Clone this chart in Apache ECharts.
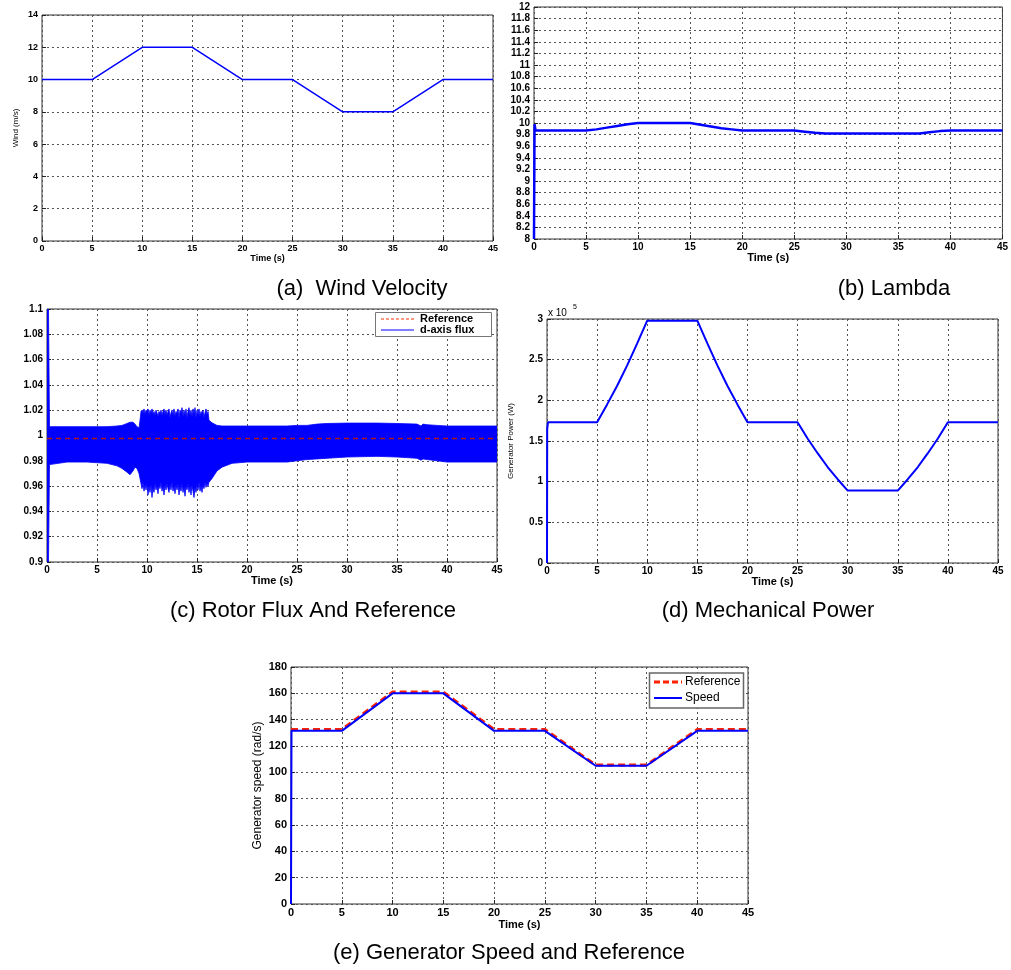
<!DOCTYPE html>
<html><head><meta charset="utf-8">
<script src="https://cdn.jsdelivr.net/npm/echarts@6/dist/echarts.min.js"></script>
<style>html,body{margin:0;padding:0;background:#fff}#c{width:1011px;height:970px}</style>
</head><body><div id="c"></div>
<script>
// ---- (a) Wind velocity ----
const windT = [0, 5, 10, 15, 20, 25, 30, 35, 40, 45];
const windV = [10, 10, 12, 12, 10, 10, 8, 8, 10, 10];
// ---- (b) Lambda ----
const lamT = [0, 0.05, 0.15, 5, 6, 7, 8, 9, 10, 15, 16, 17, 18, 19, 20, 25, 26, 27, 28, 30, 35, 37, 38, 39, 40, 45];
const lamV = [8.0, 9.98, 9.87, 9.87, 9.89, 9.92, 9.95, 9.98, 10.0, 10.0, 9.97, 9.94, 9.91, 9.89, 9.87, 9.87, 9.85, 9.83, 9.82, 9.82, 9.82, 9.82, 9.84, 9.86, 9.87, 9.87];
// ---- (c) Rotor flux envelope and reference ----
const fluxT = [0,0.15,0.25,2,4,6,7,7.5,8,8.3,8.6,8.8,9.0,9.2,
 9.3,9.4,9.5,9.6,9.7,9.8,9.9,10.0,10.1,10.2,
 10.3,10.4,10.5,10.6,10.7,10.8,10.9,11.0,11.1,11.2,
 11.3,11.4,11.5,11.6,11.7,11.8,11.9,12.0,12.1,12.2,
 12.3,12.4,12.5,12.6,12.7,12.8,12.9,13.0,13.1,13.2,
 13.3,13.4,13.5,13.6,13.7,13.8,13.9,14.0,14.1,14.2,
 14.3,14.4,14.5,14.6,14.7,14.8,14.9,15.0,15.1,15.2,
 15.3,15.4,15.5,15.6,15.7,15.8,15.9,16.0,16.1,16.2,
 16.5,17,17.5,18.5,20,24,25,26,27,28,30,33,35,37,37.4,37.6,38,39,40,45];
const fluxHi = [1.1,1.1,1.007,1.007,1.007,1.007,1.0075,1.008,1.0095,1.0105,1.0105,1.009,1.007,1.006,
 1.012,1.019,1.020,1.018,1.021,1.017,1.020,1.019,1.021,1.016,
 1.020,1.018,1.021,1.017,1.019,1.016,1.020,1.018,1.015,1.019,
 1.017,1.020,1.016,1.019,1.021,1.017,1.020,1.016,1.019,1.021,
 1.014,1.018,1.020,1.016,1.021,1.015,1.019,1.017,1.021,1.014,
 1.020,1.018,1.022,1.015,1.020,1.016,1.021,1.014,1.019,1.022,
 1.016,1.020,1.015,1.021,1.017,1.022,1.014,1.020,1.016,1.021,
 1.015,1.019,1.017,1.020,1.014,1.018,1.021,1.016,1.019,1.012,
 1.010,1.008,1.0075,1.0075,1.0075,1.0075,1.008,1.008,1.009,1.0095,1.0098,1.0098,1.0095,1.009,1.0075,1.009,1.0085,1.008,1.0075,1.0075];
const fluxLo = [0.9,0.9,0.977,0.979,0.979,0.978,0.976,0.974,0.971,0.969,0.972,0.975,0.974,0.970,
 0.966,0.962,0.958,0.963,0.956,0.961,0.957,0.962,0.953,0.960,
 0.955,0.961,0.951,0.959,0.955,0.962,0.957,0.960,0.954,0.961,
 0.958,0.963,0.956,0.960,0.953,0.961,0.957,0.962,0.958,0.955,
 0.961,0.957,0.963,0.956,0.960,0.954,0.961,0.957,0.962,0.953,
 0.960,0.956,0.962,0.955,0.959,0.952,0.960,0.957,0.962,0.955,
 0.960,0.953,0.961,0.956,0.951,0.959,0.955,0.961,0.957,0.963,
 0.956,0.960,0.955,0.961,0.958,0.963,0.959,0.962,0.960,0.963,
 0.966,0.972,0.975,0.978,0.979,0.979,0.980,0.981,0.9815,0.982,0.983,0.9835,0.983,0.982,0.9805,0.9815,0.981,0.980,0.979,0.979];
const fluxRefT = [0, 45];
const fluxRefV = [0.9977, 0.9977];
// ---- (d) Mechanical power (x 10^5 W) ----
const powT = [0, 0.02, 0.1, 5, 6, 7, 8, 9, 10, 15, 16, 17, 18, 19, 20, 25, 26, 27, 28, 29, 30, 35, 36, 37, 38, 39, 40, 45];
const powV = [0, 1.65, 1.73, 1.73, 1.95, 2.18, 2.43, 2.70, 2.98, 2.98, 2.70, 2.43, 2.18, 1.95, 1.73, 1.73, 1.53, 1.35, 1.18, 1.03, 0.89, 0.89, 1.03, 1.18, 1.35, 1.53, 1.73, 1.73];
// ---- (e) Generator speed ----
const refT = [0, 5, 10, 15, 20, 25, 30, 35, 40, 45];
const refV = [132.5, 132.5, 161, 161, 132.5, 132.5, 105.5, 105.5, 132.5, 132.5];
const spdT = [0, 0.05, 5, 10, 15, 20, 25, 30, 35, 40, 45];
const spdV = [0, 131.5, 131.5, 160, 160, 131.5, 131.5, 105, 105, 131.5, 131.5];

const captions = ['(a)  Wind Velocity', '(b) Lambda', '(c) Rotor Flux And Reference', '(d) Mechanical Power', '(e) Generator Speed and Reference'];

function pairs(t, v) { return t.map((x, i) => [x, v[i]]); }
const F = 'Liberation Sans, Arial, sans-serif';
const GRID_LINE = { show: true, lineStyle: { color: '#555', type: [2, 3], width: 1 } };

function xAx(gi, fs, gap, nfs) {
  return { type: 'value', gridIndex: gi, min: 0, max: 45, interval: 5,
    name: 'Time (s)', nameLocation: 'middle', nameGap: gap,
    nameTextStyle: { fontFamily: F, fontWeight: 'bold', fontSize: nfs, color: '#000' },
    axisLine: { show: false },
    axisTick: { inside: true, length: 4, lineStyle: { color: '#222' } },
    axisLabel: { fontFamily: F, fontWeight: 'bold', fontSize: fs, color: '#000', margin: 3 },
    splitLine: GRID_LINE };
}
function yAx(gi, min, max, itv, fs, name, gap, nfs, nbold) {
  return { type: 'value', gridIndex: gi, min: min, max: max, interval: itv,
    name: name || '', nameLocation: 'middle', nameGap: gap || 0,
    nameTextStyle: { fontFamily: F, fontWeight: nbold ? 'bold' : 'normal', fontSize: nfs || 9, color: '#000' },
    axisLine: { show: false },
    axisTick: { inside: true, length: 4, lineStyle: { color: '#222' } },
    axisLabel: { fontFamily: F, fontWeight: 'bold', fontSize: fs, color: '#000', margin: 4 },
    splitLine: GRID_LINE };
}
const gridBase = { show: true, borderColor: '#333', borderWidth: 1, backgroundColor: '#fff', containLabel: false };
const BLUE = '#0000ff';

const bandData = fluxT.map((t, i) => [t, fluxLo[i], fluxHi[i]]);

function renderBand(params, api) {
  if (params.dataIndex !== 0) return null;
  const top = fluxT.map((t, i) => api.coord([t, fluxHi[i]]));
  const bot = fluxT.map((t, i) => api.coord([t, fluxLo[i]])).reverse();
  return {
    type: 'polygon',
    shape: { points: top.concat(bot) },
    style: { fill: BLUE, stroke: BLUE, lineWidth: 0.8 }
  };
}

const option = {
  animation: false,
  backgroundColor: '#fff',
  grid: [
    Object.assign({ left: 42, top: 15, width: 451, height: 226 }, gridBase),
    Object.assign({ left: 534, top: 7, width: 469, height: 232 }, gridBase),
    Object.assign({ left: 47, top: 309, width: 450, height: 253 }, gridBase),
    Object.assign({ left: 547, top: 319, width: 451, height: 244 }, gridBase),
    Object.assign({ left: 291, top: 667, width: 457, height: 237 }, gridBase)
  ],
  xAxis: [ xAx(0, 9, 11, 9), xAx(1, 10, 10, 11), xAx(2, 10, 10, 11), xAx(3, 10, 10, 11), xAx(4, 11, 15, 11) ],
  yAxis: [
    yAx(0, 0, 14, 2, 9, 'Wind (m/s)', 22, 8, false),
    yAx(1, 8, 12, 0.2, 10),
    yAx(2, 0.9, 1.1, 0.02, 10),
    yAx(3, 0, 3, 0.5, 10, 'Generator Power (W)', 32, 8, false),
    yAx(4, 0, 180, 20, 11, 'Generator speed (rad/s)', 27, 12, false)
  ],
  series: [
    { type: 'line', xAxisIndex: 0, yAxisIndex: 0, data: pairs(windT, windV), symbol: 'none', lineStyle: { color: BLUE, width: 1.5 } },
    { type: 'line', xAxisIndex: 1, yAxisIndex: 1, data: pairs(lamT, lamV), symbol: 'none', lineStyle: { color: BLUE, width: 2.5 } },
    { type: 'custom', xAxisIndex: 2, yAxisIndex: 2, data: bandData, encode: { x: 0, y: [1, 2] }, renderItem: renderBand, clip: true, z: 2 },
    { type: 'line', xAxisIndex: 2, yAxisIndex: 2, data: pairs(fluxRefT, fluxRefV), symbol: 'none', lineStyle: { color: '#b01818', width: 1.5, type: [5, 4] }, z: 5 },
    { type: 'line', xAxisIndex: 3, yAxisIndex: 3, data: pairs(powT, powV), symbol: 'none', lineStyle: { color: BLUE, width: 2 } },
    { type: 'line', xAxisIndex: 4, yAxisIndex: 4, data: pairs(refT, refV), symbol: 'none', lineStyle: { color: '#ff2200', width: 3, type: [7, 4] } },
    { type: 'line', xAxisIndex: 4, yAxisIndex: 4, data: pairs(spdT, spdV), symbol: 'none', lineStyle: { color: BLUE, width: 2 } }
  ],
  graphic: [
    { type: 'text', x: 362, y: 289, style: { text: captions[0], font: '22px ' + F, fill: '#000', align: 'center', verticalAlign: 'middle' } },
    { type: 'text', x: 894, y: 289, style: { text: captions[1], font: '22px ' + F, fill: '#000', align: 'center', verticalAlign: 'middle' } },
    { type: 'text', x: 313, y: 611, style: { text: captions[2], font: '22px ' + F, fill: '#000', align: 'center', verticalAlign: 'middle' } },
    { type: 'text', x: 768, y: 611, style: { text: captions[3], font: '22px ' + F, fill: '#000', align: 'center', verticalAlign: 'middle' } },
    { type: 'text', x: 509, y: 953, style: { text: captions[4], font: '22px ' + F, fill: '#000', align: 'center', verticalAlign: 'middle' } },
    // x 10^5 multiplier
    { type: 'text', x: 548, y: 313, style: { text: 'x 10', font: '10px ' + F, fill: '#000', verticalAlign: 'middle' } },
    { type: 'text', x: 573, y: 307, style: { text: '5', font: '7px ' + F, fill: '#000', verticalAlign: 'middle' } },
    // legend (c)
    { type: 'rect', z: 100, shape: { x: 375.5, y: 312.5, width: 116, height: 24 }, style: { fill: '#fff', stroke: '#777', lineWidth: 1 } },
    { type: 'line', z: 101, shape: { x1: 381, y1: 319, x2: 414, y2: 319 }, style: { stroke: '#ff3300', lineWidth: 1.2, lineDash: [3, 2] } },
    { type: 'text', z: 101, x: 420, y: 319, style: { text: 'Reference', font: 'bold 11px ' + F, fill: '#000', verticalAlign: 'middle' } },
    { type: 'line', z: 101, shape: { x1: 381, y1: 330, x2: 414, y2: 330 }, style: { stroke: BLUE, lineWidth: 1 } },
    { type: 'text', z: 101, x: 420, y: 330, style: { text: 'd-axis flux', font: 'bold 11px ' + F, fill: '#000', verticalAlign: 'middle' } },
    // legend (e)
    { type: 'rect', z: 100, shape: { x: 649.5, y: 673, width: 94, height: 35 }, style: { fill: '#fff', stroke: '#666', lineWidth: 1.5 } },
    { type: 'line', z: 101, shape: { x1: 654, y1: 682, x2: 682, y2: 682 }, style: { stroke: '#ff2200', lineWidth: 3, lineDash: [6, 3] } },
    { type: 'text', z: 101, x: 685, y: 682, style: { text: 'Reference', font: '12px ' + F, fill: '#000', verticalAlign: 'middle' } },
    { type: 'line', z: 101, shape: { x1: 654, y1: 698, x2: 682, y2: 698 }, style: { stroke: BLUE, lineWidth: 2 } },
    { type: 'text', z: 101, x: 685, y: 698, style: { text: 'Speed', font: '12px ' + F, fill: '#000', verticalAlign: 'middle' } }
  ]
};
const chart = echarts.init(document.getElementById('c'), null, { renderer: 'canvas', width: 1011, height: 970 });
chart.setOption(option);
</script>
</body></html>
